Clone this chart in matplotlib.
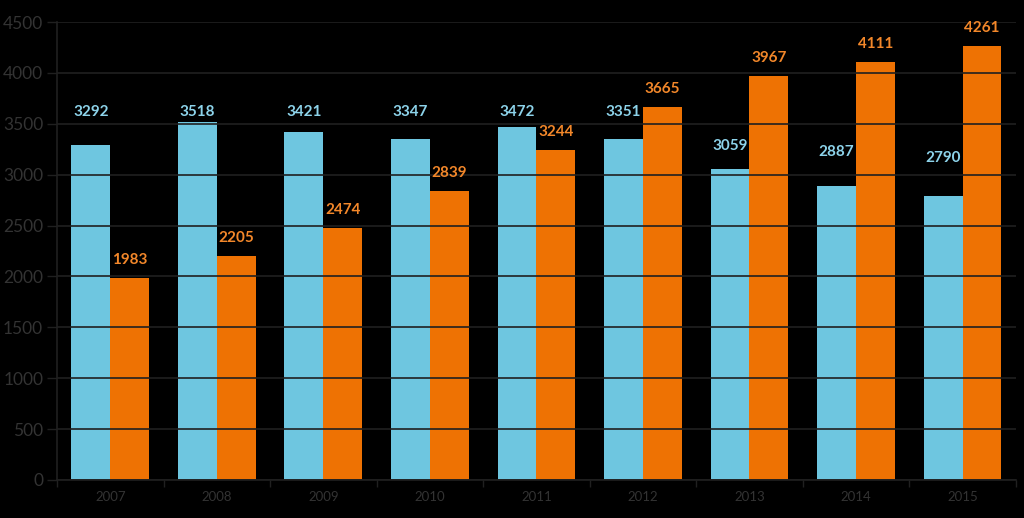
import matplotlib
matplotlib.use("Agg")
import matplotlib.pyplot as plt
import numpy as np

years = ["2007", "2008", "2009", "2010", "2011", "2012", "2013", "2014", "2015"]
blue_vals = [3292, 3518, 3421, 3347, 3472, 3351, 3059, 2887, 2790]
orange_vals = [1983, 2205, 2474, 2839, 3244, 3665, 3967, 4111, 4261]
# heights (data units) where the blue value labels sit in the original
blue_label_at = [3615, 3615, 3615, 3615, 3615, 3615, 3281, 3222, 3164]

BLUE = "#6EC6E0"
ORANGE = "#EE7203"
GRID = "#202020"
TICK = "#333333"

plt.rcParams["font.family"] = ["Lato", "DejaVu Sans"]

fig = plt.figure(figsize=(10.24, 5.18), dpi=100, facecolor="black")
ax = fig.add_axes([0.0557, 0.0734, 0.9363, 0.8841])
ax.set_facecolor("black")

x = np.arange(len(years))
w = 0.365
ax.bar(x - w / 2, blue_vals, w, color=BLUE, zorder=1)
ax.bar(x + w / 2, orange_vals, w, color=ORANGE, zorder=1)

for xi, v, ly in zip(x, blue_vals, blue_label_at):
    ax.text(xi - w / 2, ly, str(v), ha="center", va="center",
            color="#8DD3EA", fontsize=11, fontweight="bold", zorder=4)
for xi, v in zip(x, orange_vals):
    ax.annotate(str(v), (xi + w / 2, v), xytext=(0, 18), textcoords="offset pixels",
                ha="center", va="center", color="#F2872A", fontsize=11,
                fontweight="bold", zorder=4)

ax.set_xlim(-0.5, len(years) - 0.5)
ax.set_ylim(0, 4500)
ax.set_yticks(np.arange(0, 4501, 500))
ax.set_yticklabels([str(t) for t in range(0, 4501, 500)], color=TICK, fontsize=12.5)

# category labels centred, tick marks on boundaries
ax.set_xticks(x)
ax.set_xticklabels(years, color=TICK, fontsize=9.5)
ax.tick_params(axis="x", which="major", length=0, pad=8)
ax.set_xticks(np.arange(-0.5, len(years)), minor=True)
ax.tick_params(axis="x", which="minor", length=5, color=GRID, width=1)
ax.tick_params(axis="y", length=7, color=GRID, width=1, pad=3)

ax.set_axisbelow(False)
ax.yaxis.grid(True, color=GRID, linewidth=1.2, zorder=2)
ax.xaxis.grid(False)

for s in ["top", "right"]:
    ax.spines[s].set_visible(False)
for s in ["left", "bottom"]:
    ax.spines[s].set_color(GRID)
    ax.spines[s].set_linewidth(1.2)

fig.savefig("out.png", dpi=100, facecolor="black")
